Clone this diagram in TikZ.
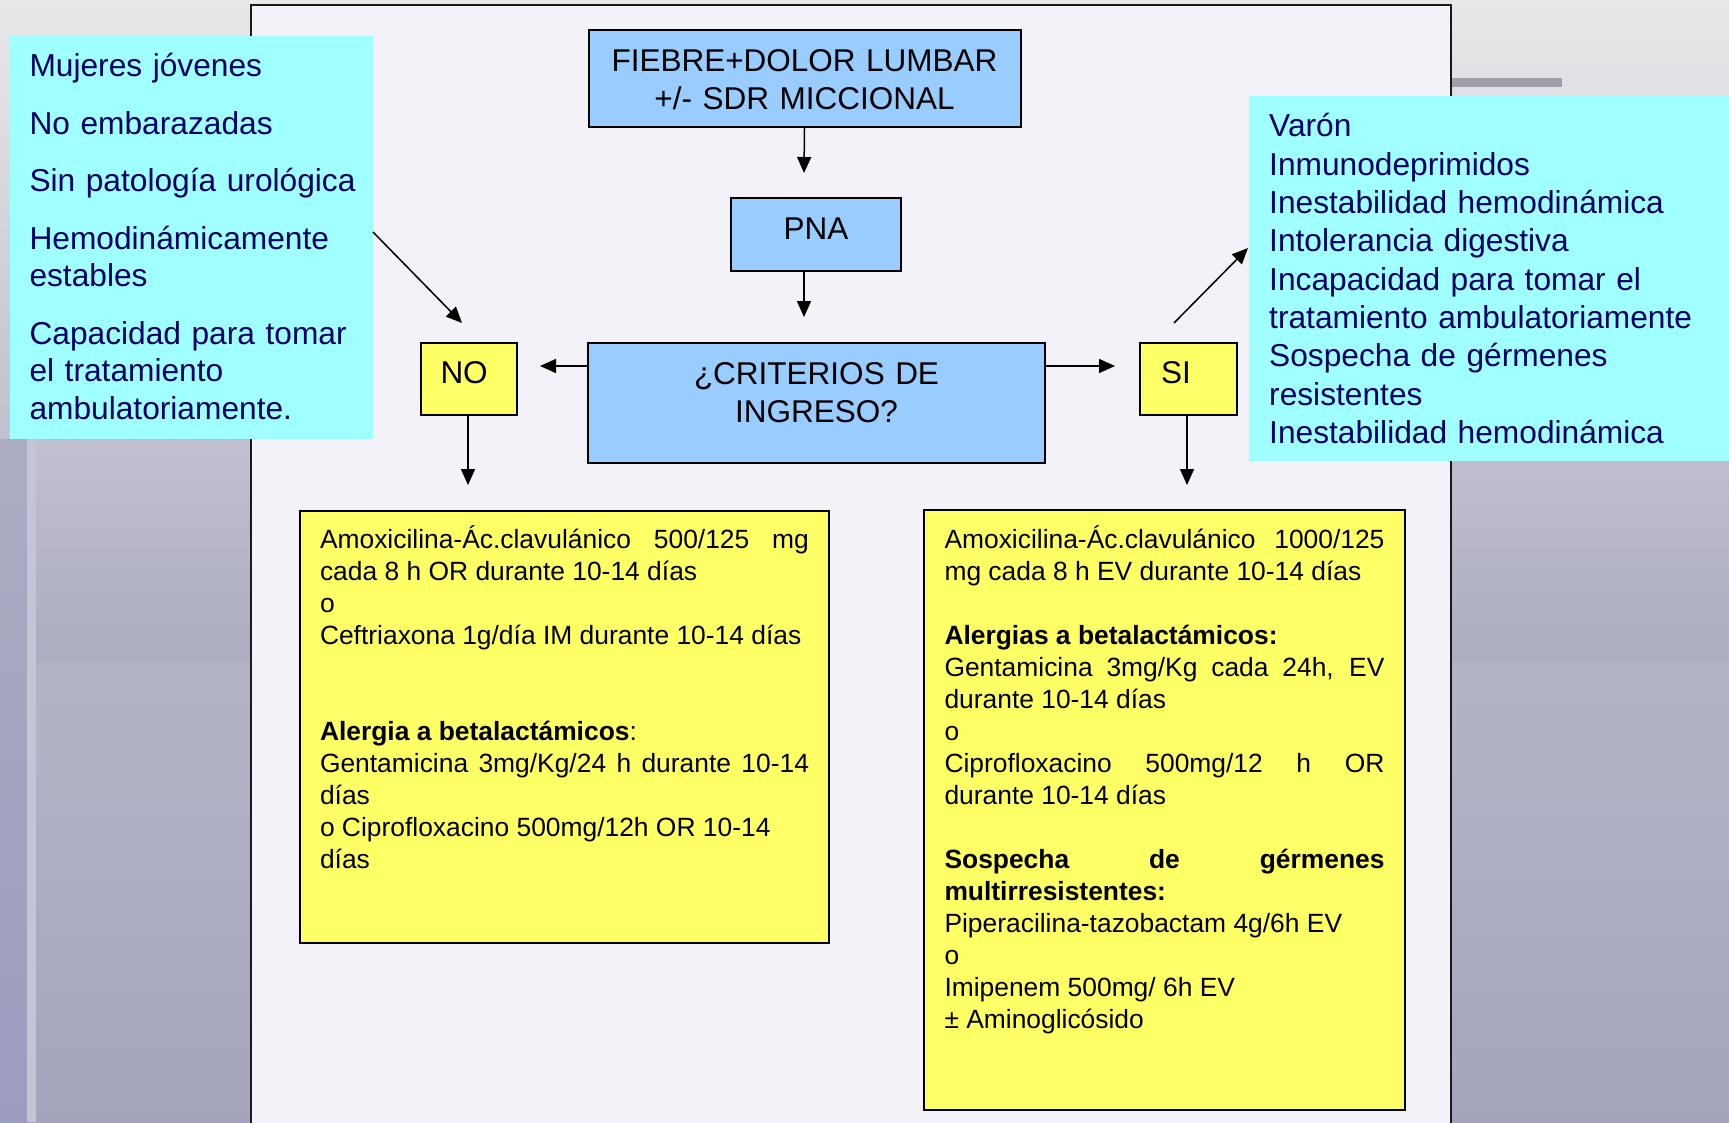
\documentclass[tikz,border=0pt]{standalone}
\usepackage{fontspec}
\setmainfont{Liberation Sans}
\usetikzlibrary{calc}
\usetikzlibrary{arrows.meta}

\definecolor{cyanbox}{RGB}{160,255,255}
\definecolor{navytext}{RGB}{0,0,102}
\definecolor{bluebox}{RGB}{153,204,255}
\definecolor{yellowbox}{RGB}{255,255,102}
\definecolor{slidewhite}{RGB}{242,242,248}
\definecolor{bgtop}{RGB}{232,232,234}
\definecolor{bgmid}{RGB}{172,172,194}
\definecolor{bglow}{RGB}{180,180,200}
\definecolor{bgbottom}{RGB}{164,164,190}
\definecolor{bgbar}{RGB}{160,160,170}
\definecolor{bgband}{RGB}{196,196,210}
\definecolor{bgstrip}{RGB}{156,156,192}

\begin{document}
\begin{tikzpicture}[x = 1pt, y = -1pt, >={Triangle[length=16pt, width=14pt]}]

\tikzstyle{box_B}=[rectangle, draw=black, line width = 2pt, fill=bluebox, inner sep=0pt, anchor=north west, align=center, font=\fontsize{31.5}{38}\selectfont]
\tikzstyle{box_R}=[rectangle, draw=black, line width = 2pt, fill=yellowbox, inner ysep=0pt, anchor=north west, align=left, font=\fontsize{31.5}{38}\selectfont]
\tikzstyle{box_T}=[rectangle, draw=black, line width = 2pt, fill=yellowbox, inner ysep=0pt, anchor=north west, align=justify, font=\fontsize{26.4}{32}\selectfont]
\tikzstyle{box_C}=[rectangle, fill=cyanbox, inner ysep=0pt, anchor=north west, align=left, text=navytext]

\useasboundingbox (0, 0) rectangle (1729, 1122);

% slide background
\shade[top color=bgtop, bottom color=bgmid] (0, 0) rectangle (1729, 663);
\shade[top color=bglow, bottom color=bgbottom] (0, 663) rectangle (1729, 1122);
\shade[top color=bgmid, bottom color=bgstrip] (0, 439) rectangle (27, 1122);
\fill[bgband] (27, 439) rectangle (36, 1122);
\fill[bgbar] (1451, 78) rectangle (1562, 87);
\draw[fill=slidewhite, draw=black!90, line width = 2.5pt] (251, 5) rectangle (1451, 1140);

\coordinate (tipPNA) at (804, 173);
\coordinate (tipCrit) at (804, 317);
\coordinate (tipNO) at (540, 366);
\coordinate (tipSI) at (1115, 366);
\coordinate (tipNOdown) at (468, 485);
\coordinate (tipSIdown) at (1187, 485);
\coordinate (fromPerfilNO) at (373, 232);
\coordinate (tipPerfilNO) at (462, 323);
\coordinate (fromSI) at (1174, 323);
\coordinate (tipPerfilSI) at (1248, 248);

\path
(587.5, 29) node[box_B, text width=432pt, text height=41.7pt, text depth=55.3pt](fiebre) {FIEBRE+DOLOR LUMBAR\\+/- SDR MICCIONAL}
(730, 197) node[box_B, text width=170pt, text height=41.3pt, text depth=31.7pt](pna) {PNA}
(587, 342) node[box_B, text width=457pt, text height=41.3pt, text depth=78.7pt](crit) {¿CRITERIOS DE\\INGRESO?}
(420, 342) node[box_R, inner xsep=19.5pt, text width=57pt, text height=40.7pt, text depth=31.3pt](no) {NO}
(1139, 342) node[box_R, inner xsep=21pt, text width=55pt, text height=40.7pt, text depth=31.3pt](si) {SI};

\path
(10, 36) node[box_C, inner xsep=19.3pt, text width=324pt, text height=40.7pt, text depth=362.3pt, font=\fontsize{31.7}{37.5}\selectfont](perfilNO) {Mujeres jóvenes\\[20pt]No embarazadas\\[20pt]\mbox{Sin patología urológica}\\[20pt]Hemodinámicamente\\estables\\[20pt]Capacidad para tomar\\el tratamiento\\ambulatoriamente.}
(1249, 96) node[box_C, inner xsep=20pt, text width=460pt, text height=40.7pt, text depth=324.3pt, font=\fontsize{31.7}{38.3}\selectfont](perfilSI) {Varón\\Inmunodeprimidos\\Inestabilidad hemodinámica\\Intolerancia digestiva\\Incapacidad para tomar el\\tratamiento ambulatoriamente\\Sospecha de gérmenes\\resistentes\\Inestabilidad hemodinámica};

\path
(299, 510) node[box_T, inner xsep=20pt, text width=489pt, text height=37.5pt, text depth=394.5pt](tratNO) {Amoxicilina-Ác.clavulánico 500/125 mg\linebreak cada 8 h OR durante 10-14 días\\o\\Ceftriaxona 1g/día IM durante 10-14 días\\[64pt]\textbf{Alergia a betalactámicos}:\\Gentamicina 3mg/Kg/24 h durante 10-14\linebreak días\\o Ciprofloxacino 500mg/12h OR 10-14\\días}
(923, 509) node[box_T, inner xsep=20.5pt, text width=440pt, text height=38.5pt, text depth=561.5pt](tratSI) {Amoxicilina-Ác.clavulánico 1000/125\linebreak mg cada 8 h EV durante 10-14 días\\[32pt]\textbf{Alergias a betalactámicos:}\\Gentamicina 3mg/Kg cada 24h, EV\linebreak durante 10-14 días\\o\\Ciprofloxacino 500mg/12 h OR\linebreak durante 10-14 días\\[32pt]\textbf{Sospecha de gérmenes\linebreak multirresistentes:}\\Piperacilina-tazobactam 4g/6h EV\\o\\Imipenem 500mg/ 6h EV\\± Aminoglicósido};

%arrows
\draw[->, line width = 1.5pt, color = black] (fiebre.south) to (tipPNA);
\draw[->, line width = 1.5pt, color = black] (pna.south -| tipCrit) to (tipCrit);
\draw[->, line width = 1.5pt, color = black] (tipNO -| crit.west) to (tipNO);
\draw[->, line width = 1.5pt, color = black] (tipSI -| crit.east) to (tipSI);
\draw[->, line width = 1.5pt, color = black] (tipNOdown |- no.south) to (tipNOdown);
\draw[->, line width = 1.5pt, color = black] (tipSIdown |- si.south) to (tipSIdown);
\draw[->, line width = 1.5pt, color = black] (fromPerfilNO) to (tipPerfilNO);
\draw[->, line width = 1.5pt, color = black] (fromSI) to (tipPerfilSI);

\end{tikzpicture}
\end{document}
